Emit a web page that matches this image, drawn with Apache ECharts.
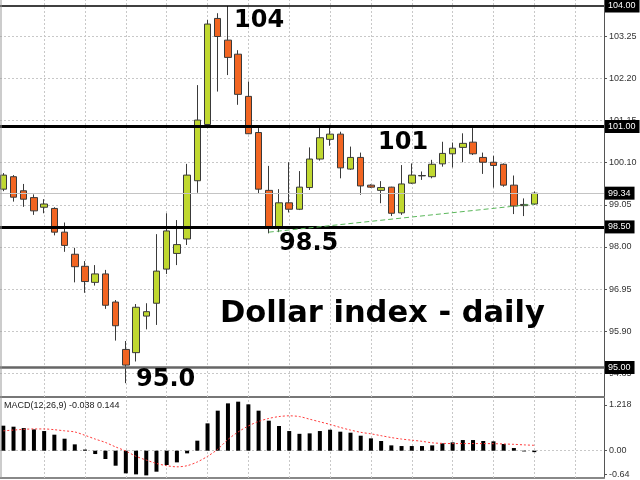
<!DOCTYPE html>
<html><head><meta charset="utf-8">
<script src="https://cdn.jsdelivr.net/npm/echarts@6/dist/echarts.min.js"></script>
<style>html,body{margin:0;padding:0;background:#fff}#c{width:640px;height:480px}</style>
</head><body><div id="c"></div>
<script>
// ---- data ----
const opens  = [99.44,99.75,99.40,99.23,98.99,98.96,98.37,97.82,97.52,97.12,97.33,96.63,95.45,95.37,96.28,96.60,97.45,97.84,98.20,99.65,101.05,103.69,103.15,102.80,101.75,100.85,99.41,98.51,99.10,98.94,99.48,100.19,100.68,100.81,99.94,100.23,99.54,99.41,99.49,98.85,99.59,99.77,99.75,100.07,100.32,100.48,100.61,100.23,100.11,100.06,99.54,99.06,99.07];
const closes = [99.79,99.24,99.19,98.90,99.07,98.37,98.04,97.51,97.14,97.33,96.55,96.04,95.06,96.50,96.39,97.40,98.40,98.06,99.79,101.16,103.55,103.24,102.72,101.80,100.82,99.44,98.51,99.10,98.94,99.49,100.19,100.72,100.81,99.97,100.23,99.52,99.49,99.48,98.84,99.57,99.79,99.78,100.06,100.33,100.46,100.58,100.32,100.11,100.03,99.54,99.02,99.03,99.34];
const lows   = [99.39,99.13,99.00,98.80,98.84,98.29,97.88,97.12,96.86,97.04,96.46,95.67,94.61,95.15,95.95,96.06,97.33,97.55,98.05,99.35,101.04,101.87,102.28,101.54,100.81,99.34,98.34,98.37,98.86,98.92,99.42,100.15,100.52,99.71,99.92,99.30,99.47,99.09,98.77,98.80,99.57,99.67,99.71,100.00,99.98,100.11,100.29,99.82,99.48,99.50,98.82,98.77,99.05];
const highs  = [99.84,99.79,99.57,99.31,99.19,98.99,98.61,97.98,97.65,97.55,97.43,96.68,95.66,96.58,96.60,98.32,98.84,98.67,100.07,102.03,103.65,103.82,104.00,102.90,102.12,100.96,100.02,99.44,100.11,99.89,100.48,100.96,101.04,100.87,100.50,100.35,99.56,99.64,99.50,100.04,100.08,99.88,100.17,100.62,100.60,100.83,100.96,100.35,100.27,100.08,99.78,99.21,99.38];
const macdMain   = [0.667,0.64,0.604,0.569,0.524,0.427,0.32,0.169,0.03,-0.089,-0.222,-0.40,-0.604,-0.631,-0.658,-0.56,-0.382,-0.311,-0.071,0.267,0.729,1.067,1.262,1.307,1.236,1.067,0.80,0.658,0.524,0.45,0.462,0.524,0.56,0.507,0.48,0.40,0.329,0.258,0.142,0.124,0.124,0.124,0.142,0.196,0.222,0.284,0.284,0.258,0.249,0.178,0.071,-0.02,-0.038];
const macdSignal = [0.53,0.55,0.57,0.58,0.58,0.56,0.53,0.50,0.41,0.31,0.22,0.10,-0.01,-0.15,-0.25,-0.34,-0.40,-0.43,-0.40,-0.30,-0.15,0.04,0.30,0.50,0.66,0.78,0.86,0.91,0.93,0.91,0.84,0.77,0.70,0.62,0.55,0.49,0.45,0.40,0.35,0.31,0.28,0.25,0.21,0.195,0.19,0.19,0.19,0.19,0.187,0.18,0.17,0.155,0.144];
const priceGridLevels = [103.25,102.20,101.15,100.10,99.05,98.00,96.95,95.90,94.85];
const levelPrices = [104.00,101.00,99.34,98.50,95.00];
const verticalGridIdx = [4,8,12,16,20,24,28,32,36,40,44,48,52,56];
const trendPoints = [[26,98.37],[52,99.07]];
const macdLabelValues = [1.218,0,-0.64];
const macdLabelTexts = ['1.218','0.00','-0.64'];
const macdTitle = 'MACD(12,26,9) -0.038 0.144';
const annotationTexts = ['104','101','98.5','95.0','Dollar index - daily'];

// ---- styles ----
const BULL = '#c0d830', BEAR = '#f26522', EDGE = '#3a3a3a';
const levelStyles = [
  {color:'#000', width:1.5},
  {color:'#000', width:3},
  {color:'#c4c4c4', width:1},
  {color:'#000', width:3},
  {color:'#666', width:2.5}
];
const X_MIN = -0.323, X_MAX = 58.825;
const LABEL_FONT = 'Liberation Sans';

const chart = echarts.init(document.getElementById('c'), null, {renderer:'canvas'});

const xAxisBase = (grid, lineColor) => ({
  type:'value', gridIndex:grid, min:X_MIN, max:X_MAX,
  axisLine:{show:true, onZero:false, lineStyle:{color:lineColor, width:2}},
  axisTick:{show:false}, axisLabel:{show:false}, splitLine:{show:false}
});

const option = {
  animation:false,
  backgroundColor:'#fff',
  grid:[
    {left:0, right:36, top:0, height:397},
    {left:0, right:36, top:398, height:80}
  ],
  xAxis:[xAxisBase(0,'#777'), xAxisBase(1,'#888')],
  yAxis:[
    {type:'value', gridIndex:0, position:'right', min:94.266, max:104.149, scale:true,
     axisLine:{show:true, onZero:false, lineStyle:{color:'#555', width:1}},
     axisTick:{show:true, length:3, customValues: priceGridLevels.concat(levelPrices), lineStyle:{color:'#555'}},
     axisLabel:{show:false}, splitLine:{show:false}},
    {type:'value', gridIndex:1, position:'right', min:-0.728, max:1.405,
     axisLine:{show:true, onZero:false, lineStyle:{color:'#555', width:1}},
     axisTick:{show:true, length:3, customValues: macdLabelValues, lineStyle:{color:'#555'}},
     axisLabel:{show:true, customValues: macdLabelValues, inside:false, margin:5, color:'#333', fontSize:9, fontFamily:LABEL_FONT,
       formatter:v=>{const k = macdLabelValues.findIndex(m=>Math.abs(m-v)<1e-6); return k>=0 ? macdLabelTexts[k] : '';}},
     splitLine:{show:false}}
  ],
  series:[
    { // price grid
      type:'line', xAxisIndex:0, yAxisIndex:0, data:[], silent:true, z:1,
      markLine:{
        silent:true, symbol:['none','none'], z:1, animation:false,
        lineStyle:{color:'#c8c8c8', type:[2,2], width:1},
        label:{show:true, position:'end', distance:5, color:'#333', fontSize:9, fontFamily:LABEL_FONT,
               formatter:p=>p.value.toFixed(2)},
        data: priceGridLevels.map(v=>({yAxis:v}))
          .concat(verticalGridIdx.map(v=>({xAxis:v, label:{show:false}})))
      }
    },
    {
      type:'candlestick', xAxisIndex:0, yAxisIndex:0, z:3, barWidth:7,
      itemStyle:{color:BULL, color0:BEAR, borderColor:EDGE, borderColor0:EDGE, borderColorDoji:EDGE, borderWidth:1},
      data: opens.map((o,i)=>[i, o, closes[i], lows[i], highs[i]])
    },
    { // level lines
      type:'line', xAxisIndex:0, yAxisIndex:0, data:[], silent:true, z:6,
      markLine:{
        silent:true, symbol:['none','none'], z:6, animation:false,
        label:{show:true, position:'end', distance:1, color:'#fff', backgroundColor:'#000',
               padding:[2,4,1,3], fontSize:9, lineHeight:10, fontFamily:LABEL_FONT,
               formatter:p=>p.value.toFixed(2)},
        data: levelPrices.map((v,i)=>({yAxis:v, lineStyle:Object.assign({type:'solid'}, levelStyles[i])}))
      }
    },
    { // trend line
      type:'line', xAxisIndex:0, yAxisIndex:0, z:7, silent:true,
      symbol:'none', data: trendPoints,
      lineStyle:{color:'#5cb85c', width:1, type:[5,3]}
    },
    { // MACD main
      type:'bar', xAxisIndex:1, yAxisIndex:1, z:3, barWidth:4,
      itemStyle:{color:'#000'},
      data: macdMain.map((v,i)=>[i,v]),
      markLine:{
        silent:true, symbol:['none','none'], z:1, animation:false,
        lineStyle:{color:'#c8c8c8', type:[2,2], width:1},
        label:{show:false},
        data: [{yAxis:0}].concat(verticalGridIdx.map(v=>({xAxis:v})))
      }
    },
    { // MACD signal
      type:'line', xAxisIndex:1, yAxisIndex:1, z:4, silent:true, symbol:'none', smooth:0.3,
      data: macdSignal.map((v,i)=>[i,v]),
      lineStyle:{color:'#ff3b3b', width:1, type:[2,2]}
    }
  ],
  graphic:[
    {type:'line', shape:{x1:1, y1:0, x2:1, y2:478}, style:{stroke:'#999', lineWidth:1}, z:10, silent:true},
    {type:'text', x:234, y:20.5, z:20, silent:true, style:{text:annotationTexts[0], font:'bold 24px "DejaVu Sans"', fill:'#000', verticalAlign:'middle'}},
    {type:'text', x:378, y:142.5, z:20, silent:true, style:{text:annotationTexts[1], font:'bold 24px "DejaVu Sans"', fill:'#000', verticalAlign:'middle'}},
    {type:'text', x:279, y:244, z:20, silent:true, style:{text:annotationTexts[2], font:'bold 24px "DejaVu Sans"', fill:'#000', verticalAlign:'middle'}},
    {type:'text', x:136, y:380, z:20, silent:true, style:{text:annotationTexts[3], font:'bold 24px "DejaVu Sans"', fill:'#000', verticalAlign:'middle'}},
    {type:'text', x:220, y:314.5, z:20, silent:true, style:{text:annotationTexts[4], font:'bold 30.5px "DejaVu Sans"', fill:'#000', verticalAlign:'middle'}},
    {type:'text', x:4, y:406, z:20, silent:true, style:{text:macdTitle, font:'9px "Liberation Sans"', fill:'#222', verticalAlign:'middle'}}
  ]
};
chart.setOption(option);
</script></body></html>
